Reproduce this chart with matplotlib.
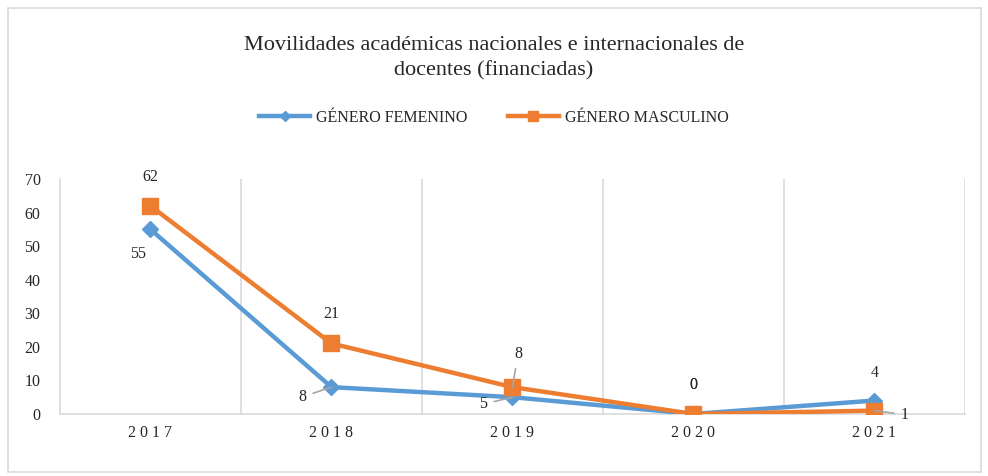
import matplotlib
matplotlib.use("Agg")
import matplotlib.pyplot as plt
from matplotlib.patches import Rectangle

years = ["2017", "2018", "2019", "2020", "2021"]
femenino = [55, 8, 5, 0, 4]
masculino = [62, 21, 8, 0, 1]
yticks = [0, 10, 20, 30, 40, 50, 60, 70]

plt.rcParams['font.family'] = ['Liberation Serif', 'DejaVu Serif']

fig = plt.figure(figsize=(9.88, 4.76), dpi=100)
fig.patches.append(Rectangle((0.008, 0.008), 0.985, 0.975, transform=fig.transFigure,
                             fill=False, edgecolor='#D9D9D9', linewidth=1.2))
ax = fig.add_axes([0.0607, 0.1303, 0.916, 0.4936])

blue = '#5B9BD5'
orange = '#ED7D31'
x = list(range(len(years)))
ax.plot(x, femenino, color=blue, lw=3.2, marker='D', markersize=8, label='GÉNERO FEMENINO', zorder=3)
ax.plot(x, masculino, color=orange, lw=3.2, marker='s', markersize=12, label='GÉNERO MASCULINO', zorder=4)

ax.set_xlim(-0.5, 4.5)
ax.set_ylim(0, 70)
ax.set_yticks(yticks)
ax.set_yticklabels([str(v) for v in yticks], fontsize=11.5, color='#262626')
ax.set_xticks(x)
ax.set_xticklabels([" ".join(y) for y in years], fontsize=11.5, color='#262626')
ax.tick_params(length=0, pad=8)
ax.tick_params(axis='y', pad=14)
for b in [0.5, 1.5, 2.5, 3.5, 4.5]:
    ax.axvline(b, color='#D9D9D9', lw=1.2, zorder=1)
for s in ['top', 'right']:
    ax.spines[s].set_visible(False)
for s in ['left', 'bottom']:
    ax.spines[s].set_color('#D9D9D9')
    ax.spines[s].set_linewidth(1.2)

def lab(i, val, dx, dy, leader=False):
    ax.annotate(str(val), (i, val), xytext=(dx, dy), textcoords='offset points',
                ha='center', va='center', fontsize=11.5, color='#262626',
                arrowprops=dict(arrowstyle='-', color='#A6A6A6', lw=1.2,
                                shrinkA=3, shrinkB=0) if leader else None, zorder=5)

lab(0, masculino[0], 0, 21)
lab(0, femenino[0], -9, -18)
lab(1, masculino[1], 0, 21)
lab(1, femenino[1], -21, -7, leader=True)
lab(2, masculino[2], 4, 24, leader=True)
lab(2, femenino[2], -21, -5, leader=True)
lab(3, masculino[3], 0, 21)
lab(3, femenino[3], 0, 21)
lab(4, femenino[4], 0, 20)
lab(4, masculino[4], 22, -3, leader=True)

fig.text(0.5, 0.878, "Movilidades académicas nacionales e internacionales de\ndocentes (financiadas)",
         ha='center', va='center', fontsize=16, color='#262626', linespacing=1.45)

leg = ax.legend(loc='center', bbox_to_anchor=(0.5, 0.752), bbox_transform=fig.transFigure,
                ncol=2, frameon=False, fontsize=11.5, handlelength=3.2, columnspacing=2.5,
                handletextpad=0.4, markerscale=0.6)
for t in leg.get_texts():
    t.set_color('#262626')

fig.savefig("out.png", dpi=100)
